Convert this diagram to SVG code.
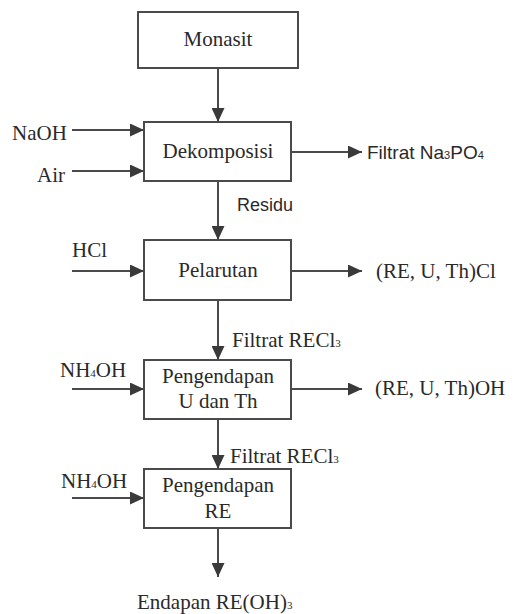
<svg xmlns="http://www.w3.org/2000/svg" width="516" height="614" viewBox="0 0 516 614">
<style>
.box{fill:#fff;stroke:#4a4a4a;stroke-width:2}
.t{font-family:'Liberation Serif','DejaVu Serif',serif;font-size:21px;fill:#2a2a2a}
.s{font-family:'Liberation Sans','DejaVu Sans',sans-serif;font-size:18px;fill:#2a2a2a}
.s19{font-size:19px}
.c{text-anchor:middle}
.sub{font-size:11px}
.ln{stroke:#4a4a4a;stroke-width:2;fill:none;marker-end:url(#ah)}
</style>
<defs>
<marker id="ah" markerUnits="userSpaceOnUse" markerWidth="14" markerHeight="13" refX="14" refY="6.5" orient="auto">
<path d="M0,0 L14,6.5 L0,13 z" fill="#3a3a3a"/>
</marker>
</defs>
<rect width="516" height="614" fill="#fff"/>
<g id="connectors">
<line class="ln" x1="218" y1="68" x2="218" y2="122"/>
<line class="ln" x1="72" y1="130" x2="144" y2="130"/>
<line class="ln" x1="72" y1="171" x2="144" y2="171"/>
<line class="ln" x1="291" y1="152" x2="362" y2="152"/>
<line class="ln" x1="218" y1="181" x2="218" y2="240"/>
<line class="ln" x1="72" y1="271" x2="144" y2="271"/>
<line class="ln" x1="291" y1="271" x2="362" y2="271"/>
<line class="ln" x1="218" y1="300" x2="218" y2="360"/>
<line class="ln" x1="72" y1="389" x2="144" y2="389"/>
<line class="ln" x1="291" y1="389" x2="362" y2="389"/>
<line class="ln" x1="218" y1="419" x2="218" y2="469"/>
<line class="ln" x1="72" y1="498" x2="144" y2="498"/>
<line class="ln" x1="218" y1="528" x2="218" y2="577"/>
</g>
<g id="monasit">
<rect class="box" x="138" y="12" width="160" height="56"/>
<text class="t c" x="218" y="46">Monasit</text>
</g>
<g id="dekomposisi">
<rect class="box" x="144" y="122" width="147" height="59"/>
<text class="t c" x="218" y="158">Dekomposisi</text>
</g>
<g id="pelarutan">
<rect class="box" x="144" y="240" width="147" height="60"/>
<text class="t c" x="218" y="277">Pelarutan</text>
</g>
<g id="pengendapan-u-th">
<rect class="box" x="144" y="360" width="147" height="59"/>
<text class="t c" x="218" y="383">Pengendapan</text>
<text class="t c" x="218" y="408">U dan Th</text>
</g>
<g id="pengendapan-re">
<rect class="box" x="144" y="469" width="147" height="59"/>
<text class="t c" x="218" y="492">Pengendapan</text>
<text class="t c" x="218" y="518">RE</text>
</g>
<g id="labels">
<text class="t" x="12" y="140">NaOH</text>
<text class="t" x="37" y="182">Air</text>
<text class="s s19" x="367" y="159">Filtrat Na<tspan class="sub">3</tspan>PO<tspan class="sub">4</tspan></text>
<text class="s" x="237" y="211">Residu</text>
<text class="t" x="72" y="257">HCl</text>
<text class="t" x="376" y="278">(RE, U, Th)Cl</text>
<text class="t" x="232" y="347">Filtrat RECl<tspan class="sub">3</tspan></text>
<text class="t" x="60" y="377">NH<tspan class="sub">4</tspan>OH</text>
<text class="t" x="375" y="395">(RE, U, Th)OH</text>
<text class="t" x="230" y="463">Filtrat RECl<tspan class="sub">3</tspan></text>
<text class="t" x="61" y="488">NH<tspan class="sub">4</tspan>OH</text>
<text class="t" x="137" y="609">Endapan RE(OH)<tspan class="sub">3</tspan></text>
</g>
</svg>
